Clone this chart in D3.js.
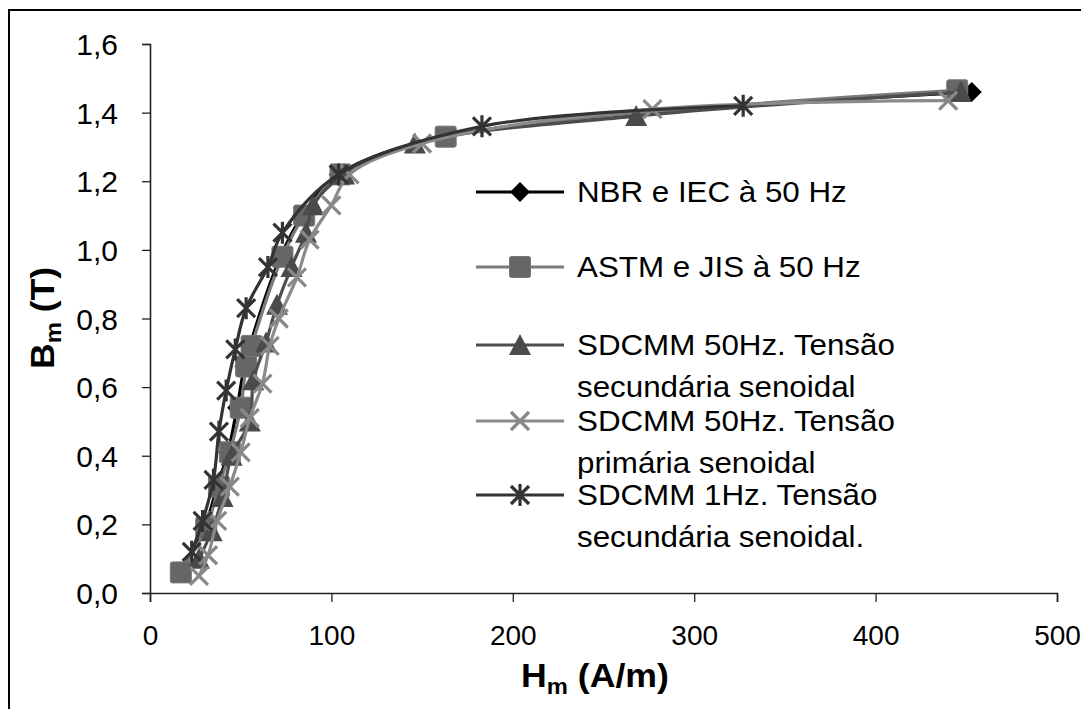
<!DOCTYPE html>
<html><head><meta charset="utf-8">
<script src="https://cdn.jsdelivr.net/npm/d3@7"></script>
<style>body{margin:0;background:#fff}svg{display:block}text{font-family:"Liberation Sans",Arial,sans-serif}</style>
</head><body>
<svg id="c" width="1081" height="709"></svg>
<script>
// ---- data ----
const seriesNames = ["NBR e IEC à 50 Hz","ASTM e JIS à 50 Hz","SDCMM 50Hz. Tensão|secundária senoidal","SDCMM 50Hz. Tensão|primária senoidal","SDCMM 1Hz. Tensão|secundária senoidal."];
const hNBR  = [17,30,37,43,48,52,55,72,84,104,163,453];
const bNBR  = [0.06,0.19,0.31,0.41,0.54,0.66,0.72,0.98,1.10,1.22,1.33,1.46];
const hASTM = [17,31,38,44,50,53,56,73,85,105,163,445];
const bASTM = [0.06,0.19,0.31,0.41,0.54,0.66,0.72,0.98,1.10,1.22,1.33,1.465];
const hSec  = [27,34,40,45,55,57,64,70,78,86,90,107,146,268,447];
const bSec  = [0.10,0.18,0.28,0.40,0.50,0.62,0.73,0.84,0.95,1.05,1.13,1.22,1.31,1.39,1.46];
const hPri  = [27,32,37,44,50,55,62,66,71,81,88,100,110,150,277,440];
const bPri  = [0.05,0.11,0.21,0.31,0.41,0.51,0.61,0.72,0.80,0.92,1.03,1.13,1.22,1.31,1.41,1.435];
const h1Hz  = [23,29,35,38,42,47,53,65,73,104,183,327];
const b1Hz  = [0.12,0.21,0.33,0.47,0.59,0.71,0.83,0.95,1.05,1.22,1.36,1.42];
const xTicks = [0,100,200,300,400,500];
const yTicks = [0,0.2,0.4,0.6,0.8,1.0,1.2,1.4,1.6];

const svg = d3.select("#c");
svg.append("rect").attr("x",9).attr("y",10).attr("width",1100).attr("height",720)
  .attr("fill","#fff").attr("stroke","#000").attr("stroke-width",2);

const x = d3.scaleLinear().domain([0,500]).range([150,1057]);
const y = d3.scaleLinear().domain([0,1.6]).range([593,44]);

// axes
const xa = svg.append("g").attr("transform","translate(0,593)")
  .call(d3.axisBottom(x).tickValues(xTicks).tickSize(9).tickPadding(23).tickFormat(d3.format("d")));
const ya = svg.append("g").attr("transform","translate(150,0)")
  .call(d3.axisLeft(y).tickValues(yTicks).tickSize(8).tickPadding(24).tickFormat(d=>d3.format(".1f")(d).replace(".",",")));
[xa,ya].forEach(g=>{
  g.select(".domain").attr("stroke","#222").attr("stroke-width",1.6);
  g.selectAll(".tick line").attr("stroke","#222").attr("stroke-width",1.3);
  g.selectAll(".tick text").attr("fill","#000").attr("font-family","'Liberation Sans',Arial,sans-serif");
});
xa.selectAll(".tick text").attr("font-size",28);
ya.selectAll(".tick text").attr("font-size",30).attr("dy","0.35em");

// axis titles
const xt = svg.append("text").attr("transform","translate(595,687) scale(1.08,1)").attr("text-anchor","middle")
  .attr("font-size",33).attr("font-weight","bold");
xt.append("tspan").text("H");
xt.append("tspan").attr("font-size",22).attr("dy",7).text("m");
xt.append("tspan").attr("dy",-7).text(" (A/m)");
const yt = svg.append("text").attr("transform","translate(54,318) rotate(-90) scale(1.08,1)").attr("text-anchor","middle")
  .attr("font-size",33).attr("font-weight","bold");
yt.append("tspan").text("B");
yt.append("tspan").attr("font-size",22).attr("dy",7).text("m");
yt.append("tspan").attr("dy",-7).text(" (T)");

// marker shapes
function diamond(g,c){g.append("path").attr("d","M0,-10L10,0L0,10L-10,0Z").attr("fill",c);}
function square(g,c){g.append("rect").attr("x",-10.5).attr("y",-10.5).attr("width",21).attr("height",21).attr("rx",2)
  .attr("fill","#666").attr("stroke","#777").attr("stroke-width",1);}
function triangle(g,c){g.append("path").attr("d","M0,-11L11,10L-11,10Z").attr("fill",c);}
function cross(g,c){g.append("path").attr("d","M-9,-9L9,9M-9,9L9,-9").attr("stroke",c).attr("stroke-width",3.2).attr("fill","none");}
function star(g,c){g.append("path").attr("d","M-9,-9L9,9M-9,9L9,-9M0,-11L0,11").attr("stroke",c).attr("stroke-width",3.2).attr("fill","none");}

const series = [
  {h:hNBR,b:bNBR,line:"#000",mk:diamond,mc:"#000"},
  {h:hASTM,b:bASTM,line:"#7a7a7a",mk:square,mc:"#666"},
  {h:hSec,b:bSec,line:"#4d4d4d",mk:triangle,mc:"#4a4a4a"},
  {h:hPri,b:bPri,line:"#8a8a8a",mk:cross,mc:"#888"},
  {h:h1Hz,b:b1Hz,line:"#333",mk:star,mc:"#333"}
];
const line = d3.line().x(d=>x(d[0])).y(d=>y(d[1])).curve(d3.curveCatmullRom.alpha(0.5));
series.forEach(s=>{
  const pts = s.h.map((v,i)=>[v,s.b[i]]);
  const g = svg.append("g");
  g.append("path").attr("d",line(pts)).attr("fill","none").attr("stroke",s.line).attr("stroke-width",3.2);
  pts.forEach(p=>{ const m=g.append("g").attr("transform",`translate(${x(p[0])},${y(p[1])})`); s.mk(m,s.mc); });
});

// legend
const legY = [192,267,345,421,495];
series.forEach((s,i)=>{
  const g = svg.append("g").attr("transform",`translate(0,${legY[i]})`);
  g.append("line").attr("x1",476).attr("x2",564).attr("y1",0).attr("y2",0).attr("stroke",s.line).attr("stroke-width",3.2);
  const m = g.append("g").attr("transform","translate(520,0)"); s.mk(m,s.mc);
  const lines = seriesNames[i].split("|");
  lines.forEach((t,j)=>{
    g.append("text").attr("transform",`translate(577,${10+j*42}) scale(1.08,1)`).attr("font-size",29).attr("fill","#000").text(t);
  });
});
</script>
</body></html>
